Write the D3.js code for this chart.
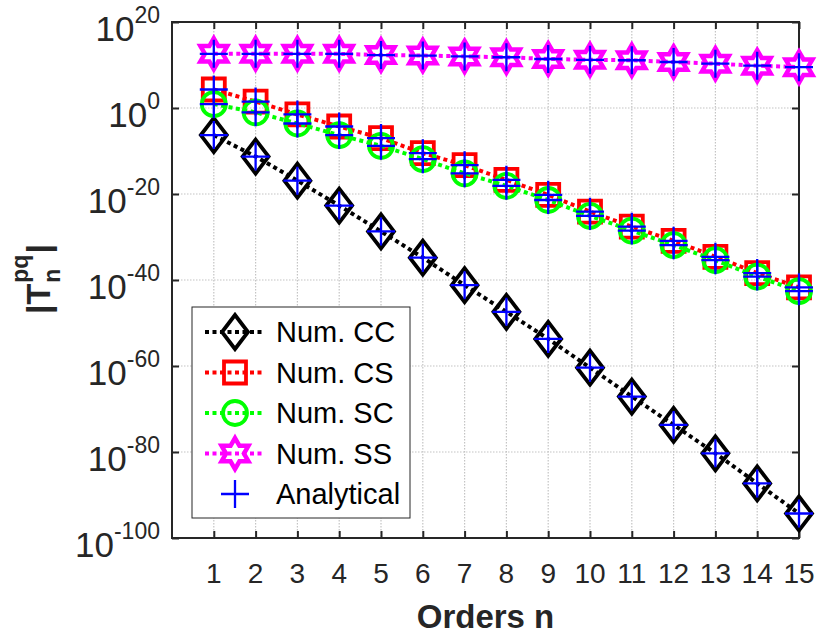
<!DOCTYPE html>
<html>
<head>
<meta charset="utf-8">
<script src="https://cdn.jsdelivr.net/npm/d3@7"></script>
<style>
  body { margin: 0; background: #fff; }
  svg { display: block; font-family: "Liberation Sans", Arial, Helvetica, sans-serif; }
</style>
</head>
<body>
<svg id="chart" width="819" height="637"></svg>
<script>
// orders n
const orders = [1, 2, 3, 4, 5, 6, 7, 8, 9, 10, 11, 12, 13, 14, 15]

// log10 |T_n^pq|
const numCC = [-6.3, -11.3, -16.9, -22.7, -28.7, -34.8, -41.2, -47.4, -53.7, -60.4, -67.1, -73.7, -80.3, -87.3, -94.3]
const numCS = [4.3, 1.5, -1.5, -4.3, -7.0, -10.5, -13.3, -16.7, -20.2, -24.1, -27.6, -30.9, -34.6, -38.4, -41.7]
const numSC = [0.9, -1.0, -3.6, -6.3, -8.8, -11.9, -15.2, -18.1, -21.4, -25.1, -28.5, -31.9, -35.4, -39.2, -42.6]
const numSS = [12.6, 12.6, 12.6, 12.6, 12.3, 12.2, 12.0, 11.8, 11.4, 11.2, 11.1, 10.7, 10.3, 9.85, 9.5]

// analytical values, same curves
const anaCC = [-6.3, -11.3, -16.9, -22.7, -28.7, -34.8, -41.2, -47.4, -53.7, -60.4, -67.1, -73.7, -80.3, -87.3, -94.3]
const anaCS = [4.3, 1.5, -1.5, -4.3, -7.0, -10.5, -13.3, -16.7, -20.2, -24.1, -27.6, -30.9, -34.6, -38.4, -41.7]
const anaSC = [0.9, -1.0, -3.6, -6.3, -8.8, -11.9, -15.2, -18.1, -21.4, -25.1, -28.5, -31.9, -35.4, -39.2, -42.6]
const anaSS = [12.6, 12.6, 12.6, 12.6, 12.3, 12.2, 12.0, 11.8, 11.4, 11.2, 11.1, 10.7, 10.3, 9.85, 9.5]

const yTickExps = [20, 0, -20, -40, -60, -80, -100]
const seriesNames = ["Num. CC", "Num. CS", "Num. SC", "Num. SS", "Analytical"]

const svg = d3.select("#chart")
const margin = { left: 172, right: 20, top: 22, bottom: 99 }
const width = 819 - margin.left - margin.right
const height = 637 - margin.top - margin.bottom
const axisColor = "#262626"

const x = d3.scaleLinear().domain([0, 15]).range([0, width])
const y = d3.scaleLog().domain([1e-100, 1e20]).range([height, 0])

const g = svg.append("g").attr("transform", `translate(${margin.left},${margin.top})`)

// grid
g.append("g").selectAll("line").data(orders).enter().append("line")
    .attr("x1", d => x(d)).attr("x2", d => x(d))
    .attr("y1", 0).attr("y2", height)
    .attr("stroke", "#c4c4c4").attr("stroke-width", 1.2).attr("stroke-dasharray", "1.5 1.5")
g.append("g").selectAll("line").data(yTickExps).enter().append("line")
    .attr("x1", 0).attr("x2", width)
    .attr("y1", d => y(Math.pow(10, d))).attr("y2", d => y(Math.pow(10, d)))
    .attr("stroke", "#c4c4c4").attr("stroke-width", 1.2).attr("stroke-dasharray", "1.5 1.5")

// axes (inward ticks, box)
const xAxis = d3.axisBottom(x).tickValues(orders).tickSize(-7).tickFormat("")
const xAxisTop = d3.axisTop(x).tickValues(orders).tickSize(-7).tickFormat("")
const yAxis = d3.axisLeft(y).tickValues(yTickExps.map(e => Math.pow(10, e))).tickSize(-7).tickFormat("")
const yAxisRight = d3.axisRight(y).tickValues(yTickExps.map(e => Math.pow(10, e))).tickSize(-7).tickFormat("")

g.append("g").attr("class", "x-axis").attr("transform", `translate(0,${height})`).call(xAxis)
g.append("g").attr("class", "x-axis").call(xAxisTop)
g.append("g").attr("class", "y-axis").call(yAxis)
g.append("g").attr("class", "y-axis").attr("transform", `translate(${width},0)`).call(yAxisRight)
g.selectAll(".x-axis path, .y-axis path").style("display", "none")
g.selectAll(".tick line").attr("stroke", axisColor).attr("stroke-width", 2)

g.append("rect").attr("x", 0).attr("y", 0).attr("width", width).attr("height", height)
    .attr("fill", "none").attr("stroke", axisColor).attr("stroke-width", 2)

// tick labels
g.append("g").selectAll("text").data(orders).enter().append("text")
    .attr("x", d => x(d)).attr("y", height + 45)
    .attr("text-anchor", "middle").attr("font-size", 28).attr("fill", axisColor)
    .text(d => d)

const yl = g.append("g").selectAll("text").data(yTickExps).enter().append("text")
    .attr("x", -12).attr("y", d => y(Math.pow(10, d)) + 19)
    .attr("text-anchor", "end").attr("fill", axisColor)
yl.append("tspan").attr("font-size", 35).text("10")
yl.append("tspan").attr("font-size", 23).attr("dy", -18).text(d => d)

// axis titles
svg.append("text")
    .attr("x", margin.left + width / 2).attr("y", 628)
    .attr("text-anchor", "middle").attr("font-size", 33).attr("font-weight", "bold").attr("fill", axisColor)
    .text("Orders n")

const yt = svg.append("g").attr("transform", `translate(50,${margin.top + height / 2}) rotate(-90)`)
    .attr("font-weight", "bold").attr("fill", axisColor)
const t1 = yt.append("text").attr("x", -34).attr("y", 0).attr("font-size", 34).text("|T")
const w1 = t1.node().getComputedTextLength()
const tSup = yt.append("text").attr("x", -34 + w1 + 1).attr("y", -22).attr("font-size", 23).text("pq")
const tSub = yt.append("text").attr("x", -34 + w1 + 1).attr("y", 10).attr("font-size", 23).text("n")
const w2 = Math.max(tSup.node().getComputedTextLength(), tSub.node().getComputedTextLength())
yt.append("text").attr("x", -34 + w1 + w2 + 2).attr("y", 0).attr("font-size", 34).text("|")

// marker shapes
function hexagram(R) {
    const r = R / Math.sqrt(3)
    const pts = []
    for (let i = 0; i < 12; i++) {
        const a = -Math.PI / 2 + i * Math.PI / 6
        const rr = i % 2 === 0 ? R : r
        pts.push([rr * Math.cos(a), rr * Math.sin(a)])
    }
    return "M" + pts.map(p => p.join(",")).join("L") + "Z"
}
const markerPath = {
    diamond: "M0,-17L13,0L0,17L-13,0Z",
    square: "M-11,-11H11V11H-11Z",
    circle: "M12,0A12,12 0 1,1 -12,0A12,12 0 1,1 12,0Z",
    hexagram: hexagram(15.5),
    plus: "M-14,0H14M0,-14V14"
}

const series = [
    { name: seriesNames[0], values: numCC, color: "#000000", marker: "diamond" },
    { name: seriesNames[1], values: numCS, color: "#ff0000", marker: "square" },
    { name: seriesNames[2], values: numSC, color: "#00ff00", marker: "circle" },
    { name: seriesNames[3], values: numSS, color: "#ff00ff", marker: "hexagram" }
]
const analytical = [anaCC, anaCS, anaSC, anaSS]

const line = d3.line()
    .x((d, i) => x(orders[i]))
    .y(d => y(Math.pow(10, d)))

series.forEach(s => {
    g.append("path").datum(s.values)
        .attr("d", line)
        .attr("fill", "none").attr("stroke", s.color).attr("stroke-width", 4)
        .attr("stroke-dasharray", "4 3.5")
    g.append("g").selectAll("path").data(s.values).enter().append("path")
        .attr("transform", (d, i) => `translate(${x(orders[i])},${y(Math.pow(10, d))})`)
        .attr("d", markerPath[s.marker])
        .attr("fill", "none").attr("stroke", s.color)
        .attr("stroke-width", s.marker === "hexagram" ? 4.5 : 3.8)
        .attr("stroke-linejoin", "miter")
})

analytical.forEach(vals => {
    g.append("g").selectAll("path").data(vals).enter().append("path")
        .attr("transform", (d, i) => `translate(${x(orders[i])},${y(Math.pow(10, d))})`)
        .attr("d", markerPath.plus)
        .attr("fill", "none").attr("stroke", "#0000ff").attr("stroke-width", 2.3)
})

// legend
const legend = svg.append("g").attr("transform", "translate(192,307)")
legend.append("rect").attr("x", 0).attr("y", 0).attr("width", 218).attr("height", 211)
    .attr("fill", "#fff").attr("stroke", "#262626").attr("stroke-width", 1)

const legendItems = series.concat([{ name: seriesNames[4], color: "#0000ff", marker: "plus" }])
legendItems.forEach((s, i) => {
    const cy = 25 + i * 40.5
    if (s.marker !== "plus") {
        legend.append("line").attr("x1", 13).attr("x2", 73).attr("y1", cy).attr("y2", cy)
            .attr("stroke", s.color).attr("stroke-width", 4).attr("stroke-dasharray", "4 3.5")
    }
    legend.append("path").attr("transform", `translate(43,${cy})`)
        .attr("d", markerPath[s.marker])
        .attr("fill", "none").attr("stroke", s.color)
        .attr("stroke-width", s.marker === "plus" ? 2.3 : (s.marker === "hexagram" ? 4.5 : 3.8))
    legend.append("text").attr("x", 84).attr("y", cy + 10)
        .attr("font-size", 29).attr("fill", "#000").text(s.name)
})
</script>
</body>
</html>
